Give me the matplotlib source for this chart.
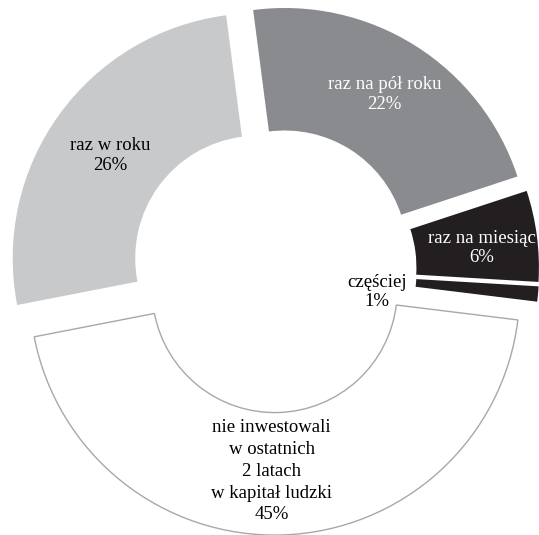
import numpy as np
import matplotlib.pyplot as plt


# =========================
# DATA
# =========================
CATEGORIES = [
    "częściej",
    "raz na miesiąc",
    "raz na pół roku",
    "raz w roku",
    "nie inwestowali\nw ostatnich\n2 latach\nw kapitał ludzki",
]
SHARES = [1, 6, 22, 26, 45]


# =========================
# STYLE
# =========================
COLORS = ["#231f20", "#231f20", "#8a8b8f", "#c8c9cb", "#ffffff"]
EDGE_COLORS = ["none", "none", "none", "none", "#a8a8a8"]
TEXT_COLORS = ["black", "white", "white", "black", "black"]

# label distance from each (exploded) wedge centre + small angle tweak (deg)
LABEL_RADII = [0.35, 0.77, 0.765, 0.735, 0.74]
LABEL_ANGLE_SHIFT = [-8.5, -1.5, 0, 1, -3]
LINE_SPACING = [1.2, 1.2, 1.2, 1.2, 1.36]

EXPLODE = 0.082
START_ANGLE = -7
FONT_SIZE = 13.5

plt.rcParams["font.family"] = ["Liberation Serif", "DejaVu Serif"]

fig = plt.figure(figsize=(5.39, 5.35), dpi=100)
ax = fig.add_axes([0, 0, 1, 1])

wedges, _ = ax.pie(
    SHARES,
    colors=COLORS,
    startangle=START_ANGLE,
    counterclock=True,
    explode=[EXPLODE] * len(SHARES),
    radius=1.0,
    wedgeprops=dict(width=0.5, linewidth=1.0),
)

for w, ec in zip(wedges, EDGE_COLORS):
    w.set_edgecolor(ec)

# labels placed from the wedge geometry
for w, name, share, tc, rho, dth, ls in zip(
    wedges, CATEGORIES, SHARES, TEXT_COLORS,
    LABEL_RADII, LABEL_ANGLE_SHIFT, LINE_SPACING,
):
    theta = np.deg2rad(0.5 * (w.theta1 + w.theta2) + dth)
    cx, cy = w.center
    ax.text(
        cx + rho * np.cos(theta),
        cy + rho * np.sin(theta),
        f"{name}\n{share}%",
        ha="center",
        va="center",
        color=tc,
        fontsize=FONT_SIZE,
        linespacing=ls,
    )

# 245 px per unit, centre at (274, 270) px from the top-left corner
ax.set_xlim(-274 / 245, 265 / 245)
ax.set_ylim(-265 / 245, 270 / 245)
ax.set_aspect("auto")
ax.axis("off")

plt.savefig("out.png", dpi=100)
